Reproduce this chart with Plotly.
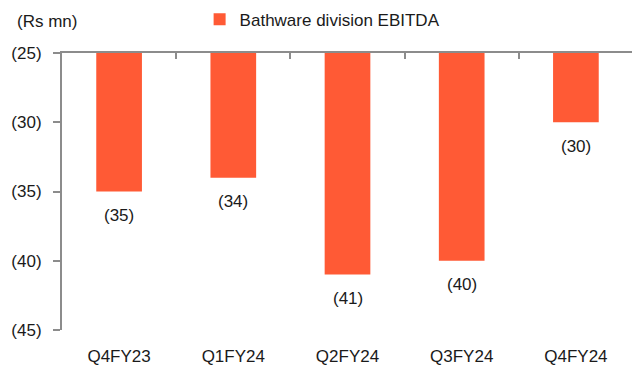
import plotly.graph_objects as go

categories = ["Q4FY23", "Q1FY24", "Q2FY24", "Q3FY24", "Q4FY24"]
ebitda = [-35, -34, -41, -40, -30]
y_ticks = [-25, -30, -35, -40, -45]
series_name = "Bathware division EBITDA"
unit_label = "(Rs mn)"

BAR_COLOR = "#FF5A35"
AXIS_COLOR = "#8C8C8C"
TEXT_COLOR = "#1a1a1a"
FONT = "Liberation Sans, Arial, sans-serif"
FS = 17

def paren(v):
    return f"({abs(v):g})" if v < 0 else f"{v:g}"

x_idx = list(range(len(categories)))

fig = go.Figure()
fig.add_trace(go.Bar(
    x=x_idx, y=ebitda, name=series_name,
    marker=dict(color=BAR_COLOR, line=dict(width=0)),
    width=0.4,
    showlegend=True,
))
fig.add_trace(go.Scatter(x=[None], y=[None], xaxis="x2", showlegend=False, hoverinfo="skip"))

annotations = [dict(text=unit_label, xref="paper", yref="paper", x=-0.083, y=1.113,
                    xanchor="left", yanchor="middle", showarrow=False,
                    font=dict(size=FS))]
for xi, v in zip(x_idx, ebitda):
    annotations.append(dict(x=xi, y=v, xref="x", yref="y", text=paren(v),
                            showarrow=False, yanchor="middle", yshift=-24,
                            font=dict(size=FS, color=TEXT_COLOR)))

fig.update_layout(
    width=632, height=362,
    margin=dict(l=54, r=7, t=45, b=40, autoexpand=False),
    paper_bgcolor="white", plot_bgcolor="white",
    font=dict(family=FONT, size=FS, color=TEXT_COLOR),
    showlegend=True,
    legend=dict(orientation="h", x=0.241, xanchor="left", y=1.12, yanchor="middle",
                font=dict(size=FS), itemwidth=30, bgcolor="rgba(0,0,0,0)"),
    xaxis=dict(
        tickmode="array", tickvals=x_idx, ticktext=categories,
        range=[-0.5, len(categories) - 0.5],
        showline=False, ticks="", showgrid=False, zeroline=False,
        tickfont=dict(size=FS), ticklabelstandoff=14,
    ),
    xaxis2=dict(
        overlaying="x", side="top", anchor="y",
        range=[-0.5, len(categories) - 0.5],
        tickmode="array", tickvals=[i + 0.5 for i in x_idx],
        showticklabels=False, ticks="inside", ticklen=6, tickcolor=AXIS_COLOR,
        tickwidth=2,
        showline=True, linecolor=AXIS_COLOR, linewidth=2,
        showgrid=False, zeroline=False,
    ),
    yaxis=dict(
        range=[-45, -25],
        tickmode="array", tickvals=y_ticks, ticktext=[paren(v) for v in y_ticks],
        showline=True, linecolor=AXIS_COLOR, linewidth=2,
        ticks="outside", ticklen=7, tickcolor=AXIS_COLOR, tickwidth=2,
        showgrid=False, zeroline=False, tickfont=dict(size=FS),
        ticklabelstandoff=8,
    ),
    annotations=annotations,
)

fig.write_html("out.html")
